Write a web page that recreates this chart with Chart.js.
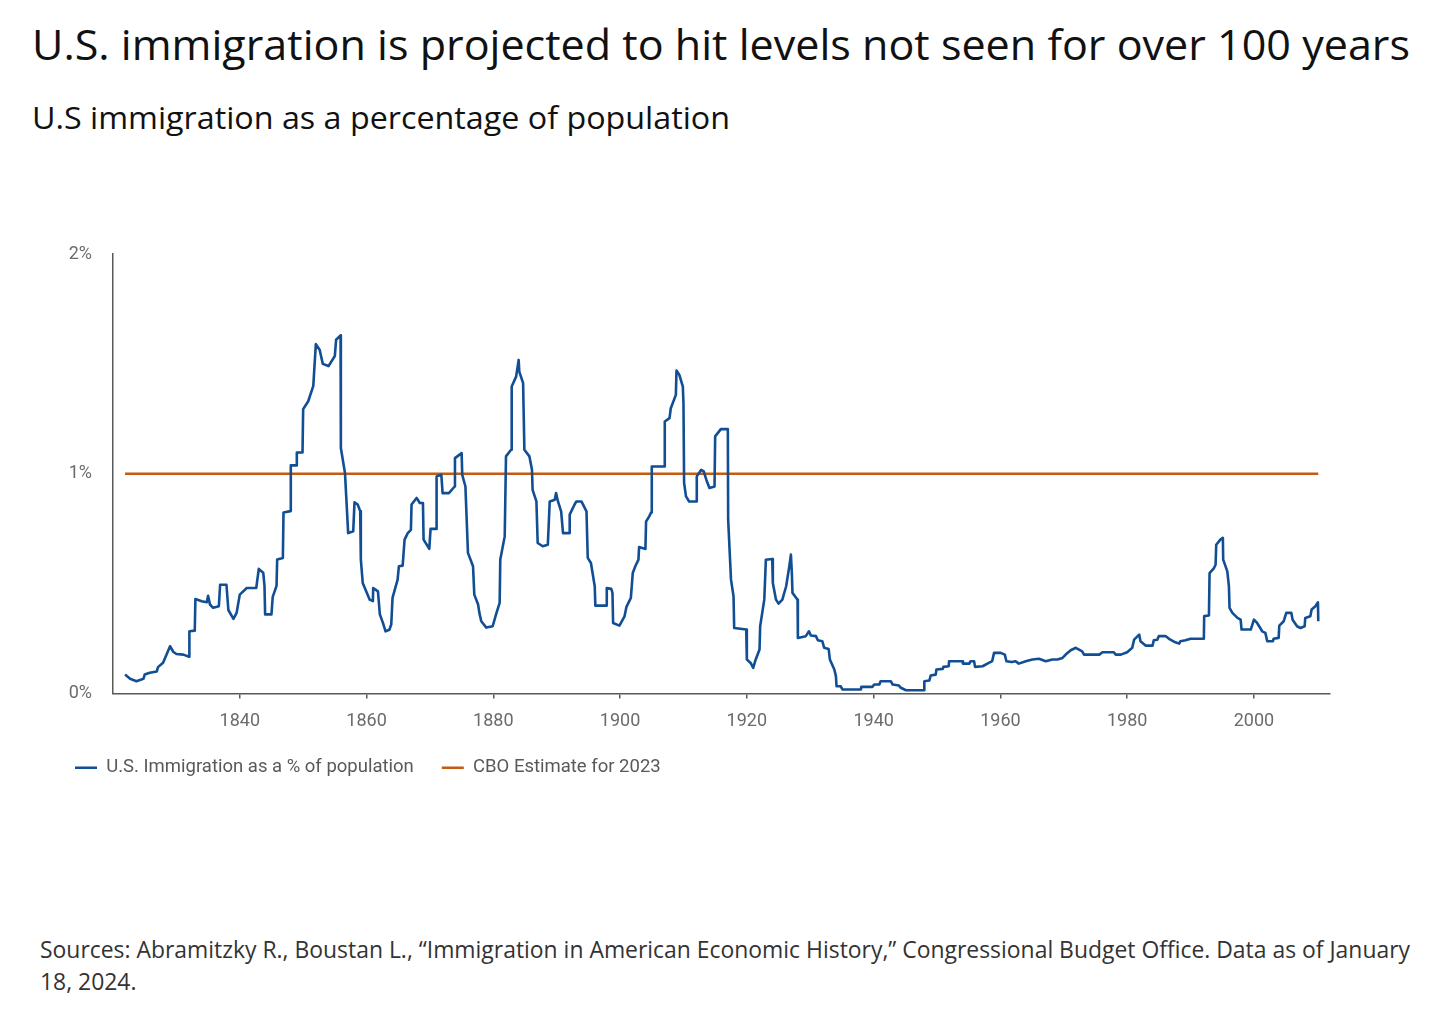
<!DOCTYPE html>
<html lang="en">
<head>
  <meta charset="UTF-8" />
  <title>U.S. immigration as a percentage of population</title>
  <script src="https://cdn.jsdelivr.net/npm/chart.js"></script>
  <style>
    body { margin: 0; background: #fff; width: 1440px; height: 1028px; position: relative; overflow: hidden; font-family: "Open Sans", sans-serif; }
    .txt { position: absolute; white-space: nowrap; transform-origin: 0 0; }
    #title { left: 32px; top: 23px; font-size: 42px; line-height: 42px; color: #111; }
    #subtitle { left: 32px; top: 102px; font-size: 31px; line-height: 31px; color: #111; }
    #source { left: 40px; top: 934px; font-size: 23px; line-height: 31.6px; color: #333; }
    #chartBox { position: absolute; left: 0; top: 220px; width: 1440px; height: 567px; }
  </style>
</head>
<body>

  <div id="title" class="txt">U.S. immigration is projected to hit levels not seen for over 100 years</div>
  <div id="subtitle" class="txt">U.S immigration as a percentage of population</div>

  <div id="chartBox"><canvas id="immChart"></canvas></div>

  <div id="source" class="txt"><span id="srcLine">Sources: Abramitzky R., Boustan L., “Immigration in American Economic History,” Congressional Budget Office. Data as of January</span><br>18, 2024.</div>

  <script>
    // values (year, % of population)
    const years = [
      1821.9, 1822.7, 1823.7, 1824.8, 1825.0, 1825.8, 1826.9, 1827.1, 1827.9, 1828.2,
      1829.0, 1829.5, 1830.0, 1831.1, 1832.0, 1832.05, 1832.9, 1833.0, 1834.0, 1834.8,
      1835.0, 1835.3, 1835.8, 1836.7, 1836.9, 1837.9, 1838.2, 1839.0, 1839.5, 1840.0,
      1841.1, 1842.6, 1843.0, 1843.7, 1843.9, 1844.0, 1845.0, 1845.2, 1845.8, 1845.9,
      1846.8, 1846.9, 1848.0, 1848.05, 1848.9, 1849.0, 1849.9, 1850.0, 1850.8, 1851.6,
      1852.0, 1852.6, 1853.1, 1854.0, 1855.0, 1855.2, 1855.9, 1855.95, 1856.6, 1857.1,
      1857.9, 1858.1, 1858.6, 1859.0, 1859.1, 1859.4, 1860.5, 1861.0, 1861.05, 1861.8,
      1862.1, 1862.6, 1863.0, 1863.6, 1863.9, 1864.1, 1864.9, 1865.1, 1865.7, 1866.0,
      1866.5, 1867.0, 1867.1, 1867.9, 1868.4, 1868.9, 1869.0, 1869.9, 1870.1, 1871.0,
      1871.05, 1871.8, 1872.0, 1873.0, 1873.9, 1873.95, 1875.0, 1875.1, 1875.6, 1876.0,
      1876.8, 1877.0, 1877.6, 1877.8, 1878.1, 1878.9, 1879.9, 1880.5, 1881.0, 1881.1,
      1881.8, 1882.0, 1882.8, 1882.9, 1883.6, 1884.0, 1884.1, 1884.7, 1884.9, 1885.7,
      1886.1, 1886.2, 1886.8, 1887.0, 1887.8, 1888.6, 1888.9, 1889.7, 1889.9, 1890.2,
      1890.7, 1891.0, 1892.0, 1892.05, 1892.8, 1893.1, 1893.9, 1894.7, 1894.9, 1895.4,
      1896.0, 1896.1, 1897.8, 1897.9, 1898.6, 1898.8, 1898.9, 1899.9, 1900.7, 1901.0,
      1901.7, 1902.0, 1902.4, 1902.9, 1903.0, 1904.0, 1904.1, 1904.6, 1904.9, 1905.0,
      1907.0, 1907.05, 1907.8, 1908.0, 1908.8, 1908.9, 1909.35, 1909.9, 1910.0, 1910.1,
      1910.4, 1910.9, 1912.0, 1912.1, 1912.8, 1913.2, 1913.6, 1914.1, 1914.9, 1915.0,
      1915.9, 1917.0, 1917.05, 1917.5, 1917.9, 1918.0, 1919.9, 1920.0, 1920.6, 1921.0,
      1921.4, 1922.0, 1922.1, 1922.75, 1923.0, 1924.0, 1924.1, 1924.6, 1925.0, 1925.6,
      1926.2, 1926.7, 1926.95, 1927.1, 1927.2, 1928.0, 1928.05, 1929.3, 1929.8, 1930.1,
      1930.9, 1931.2, 1931.9, 1932.2, 1932.9, 1933.1, 1933.8, 1934.05, 1934.15, 1934.8,
      1935.1, 1938.0, 1938.05, 1939.8, 1940.1, 1940.9, 1941.1, 1942.7, 1943.0, 1944.0,
      1944.3, 1945.1, 1947.95, 1948.0, 1948.8, 1949.0, 1949.8, 1949.9, 1950.9, 1951.0,
      1951.85, 1951.9, 1954.0, 1954.1, 1955.1, 1955.3, 1955.85, 1956.0, 1957.2, 1957.95,
      1958.7, 1959.0, 1960.05, 1960.7, 1960.95, 1961.8, 1962.4, 1962.9, 1964.0, 1965.05,
      1966.1, 1967.15, 1968.2, 1969.0, 1969.8, 1970.3, 1971.1, 1971.9, 1972.9, 1973.2,
      1975.6, 1976.1, 1977.9, 1978.2, 1979.0, 1980.0, 1980.8, 1981.1, 1981.9, 1982.1,
      1982.9, 1984.0, 1984.2, 1984.75, 1985.0, 1986.1, 1986.6, 1987.6, 1988.2, 1988.4,
      1989.2, 1990.0, 1992.1, 1992.15, 1992.9, 1993.0, 1993.7, 1993.95, 1994.05, 1994.7,
      1995.1, 1995.15, 1995.8, 1996.05, 1996.15, 1996.6, 1997.4, 1997.9, 1998.05, 1999.5,
      2000.0, 2000.5, 2001.0, 2001.3, 2001.8, 2002.1, 2003.0, 2003.1, 2003.9, 2004.0,
      2004.7, 2005.1, 2005.9, 2006.1, 2006.8, 2007.35, 2008.0, 2008.1, 2008.9, 2009.1,
      2009.7, 2010.1, 2010.15
    ];
    const immigrationPct = [
      0.086, 0.067, 0.056, 0.067, 0.086, 0.094, 0.100, 0.120, 0.140, 0.160,
      0.215, 0.190, 0.180, 0.177, 0.167, 0.283, 0.286, 0.430, 0.420, 0.415,
      0.445, 0.405, 0.390, 0.397, 0.495, 0.495, 0.380, 0.340, 0.367, 0.450,
      0.480, 0.480, 0.567, 0.550, 0.490, 0.360, 0.360, 0.440, 0.490, 0.610,
      0.617, 0.824, 0.830, 1.038, 1.038, 1.097, 1.097, 1.294, 1.330, 1.400,
      1.590, 1.564, 1.500, 1.490, 1.536, 1.610, 1.630, 1.117, 1.003, 0.730,
      0.738, 0.870, 0.860, 0.830, 0.610, 0.503, 0.427, 0.420, 0.480, 0.465,
      0.360, 0.320, 0.283, 0.290, 0.314, 0.435, 0.518, 0.579, 0.582, 0.700,
      0.730, 0.745, 0.860, 0.890, 0.867, 0.867, 0.700, 0.658, 0.749, 0.749,
      0.988, 0.995, 0.912, 0.912, 0.942, 1.071, 1.094, 0.995, 0.942, 0.640,
      0.579, 0.450, 0.405, 0.367, 0.329, 0.300, 0.306, 0.367, 0.412, 0.610,
      0.715, 1.079, 1.109, 1.397, 1.442, 1.518, 1.465, 1.412, 1.109, 1.079,
      1.018, 0.927, 0.874, 0.685, 0.670, 0.677, 0.874, 0.882, 0.912, 0.874,
      0.829, 0.730, 0.730, 0.814, 0.859, 0.874, 0.874, 0.829, 0.617, 0.594,
      0.488, 0.400, 0.400, 0.480, 0.476, 0.458, 0.321, 0.309, 0.351, 0.394,
      0.435, 0.548, 0.579, 0.609, 0.667, 0.658, 0.783, 0.806, 0.824, 1.033,
      1.033, 1.238, 1.253, 1.298, 1.359, 1.470, 1.450, 1.397, 1.321, 0.958,
      0.897, 0.874, 0.874, 0.988, 1.018, 1.011, 0.973, 0.935, 0.942, 1.170,
      1.203, 1.203, 0.791, 0.518, 0.442, 0.298, 0.291, 0.155, 0.139, 0.117,
      0.155, 0.200, 0.306, 0.427, 0.609, 0.612, 0.503, 0.427, 0.409, 0.427,
      0.488, 0.579, 0.632, 0.548, 0.458, 0.427, 0.253, 0.261, 0.283, 0.264,
      0.261, 0.242, 0.238, 0.208, 0.203, 0.155, 0.109, 0.079, 0.033, 0.033,
      0.018, 0.018, 0.030, 0.030, 0.041, 0.041, 0.056, 0.056, 0.041, 0.036,
      0.026, 0.015, 0.015, 0.056, 0.059, 0.082, 0.086, 0.109, 0.112, 0.121,
      0.124, 0.147, 0.147, 0.136, 0.136, 0.147, 0.147, 0.121, 0.124, 0.136,
      0.147, 0.185, 0.185, 0.177, 0.147, 0.143, 0.147, 0.136, 0.147, 0.155,
      0.158, 0.147, 0.155, 0.155, 0.162, 0.177, 0.197, 0.208, 0.192, 0.177,
      0.177, 0.188, 0.188, 0.177, 0.177, 0.188, 0.208, 0.245, 0.268, 0.238,
      0.218, 0.218, 0.242, 0.245, 0.261, 0.261, 0.249, 0.233, 0.227, 0.238,
      0.242, 0.249, 0.249, 0.352, 0.355, 0.548, 0.571, 0.586, 0.677, 0.700,
      0.708, 0.609, 0.556, 0.488, 0.390, 0.367, 0.344, 0.336, 0.291, 0.291,
      0.336, 0.321, 0.298, 0.283, 0.276, 0.238, 0.238, 0.249, 0.253, 0.309,
      0.329, 0.367, 0.367, 0.336, 0.306, 0.298, 0.306, 0.344, 0.352, 0.382,
      0.397, 0.415, 0.329
    ];
    const cboYears = [1821.9, 2010.15];
    const cboPct = [1, 1];
    const xTicks = [1840, 1860, 1880, 1900, 1920, 1940, 1960, 1980, 2000];
    const yTicks = [0, 1, 2];

    const seriesNames = ['U.S. Immigration as a % of population', 'CBO Estimate for 2023'];

    // fit header / source text to the widths in the reference
    function fitWidth(el, measureEl, target) {
      const w = measureEl.getBoundingClientRect().width;
      el.style.transform = 'scaleX(' + (target / w) + ')';
    }
    const title = document.getElementById('title');
    const subtitle = document.getElementById('subtitle');
    const source = document.getElementById('source');
    fitWidth(title, title, 1378);
    fitWidth(subtitle, subtitle, 698);
    fitWidth(source, document.getElementById('srcLine'), 1370);

    Chart.defaults.font.family = 'Roboto, "Liberation Sans", sans-serif';

    const ctx = document.getElementById('immChart').getContext('2d');
    new Chart(ctx, {
      type: 'line',
      data: {
        datasets: [
          {
            label: seriesNames[0],
            data: years.map((y, i) => ({ x: y, y: immigrationPct[i] })),
            borderColor: '#114e94',
            backgroundColor: '#114e94',
            borderWidth: 2.6,
            borderJoinStyle: 'round',
            pointRadius: 0,
            tension: 0
          },
          {
            label: seriesNames[1],
            data: cboYears.map((y, i) => ({ x: y, y: cboPct[i] })),
            borderColor: '#c55a11',
            backgroundColor: '#c55a11',
            borderWidth: 2.6,
            pointRadius: 0
          }
        ]
      },
      options: {
        responsive: true,
        maintainAspectRatio: false,
        animation: false,
        layout: { padding: { left: 47, right: 110, top: 34, bottom: 0 } },
        plugins: {
          legend: {
            position: 'bottom',
            align: 'start',
            labels: {
              usePointStyle: true,
              pointStyle: 'line',
              pointStyleWidth: 22,
              padding: 28,
              color: '#595959',
              font: { size: 18.5 }
            }
          },
          tooltip: { enabled: false }
        },
        scales: {
          x: {
            type: 'linear',
            min: 1820,
            max: 2012,
            afterBuildTicks: s => { s.ticks = xTicks.map(v => ({ value: v })); },
            afterFit: s => { s.height = 37; },
            grid: { drawOnChartArea: false, drawTicks: true, tickLength: 5, color: '#595959', lineWidth: 1.5 },
            border: { display: true, color: '#595959', width: 1.5 },
            ticks: { color: '#6b6b6b', font: { size: 18 }, padding: 12, maxRotation: 0, callback: v => String(v) }
          },
          y: {
            min: 0,
            max: 2,
            afterBuildTicks: s => { s.ticks = yTicks.map(v => ({ value: v })); },
            afterFit: s => { s.width = 66; },
            grid: { display: false, drawTicks: false },
            border: { display: true, color: '#595959', width: 1.5 },
            ticks: { color: '#6b6b6b', font: { size: 18 }, padding: 21, callback: v => v + '%' }
          }
        }
      }
    });
  </script>
</body>
</html>
